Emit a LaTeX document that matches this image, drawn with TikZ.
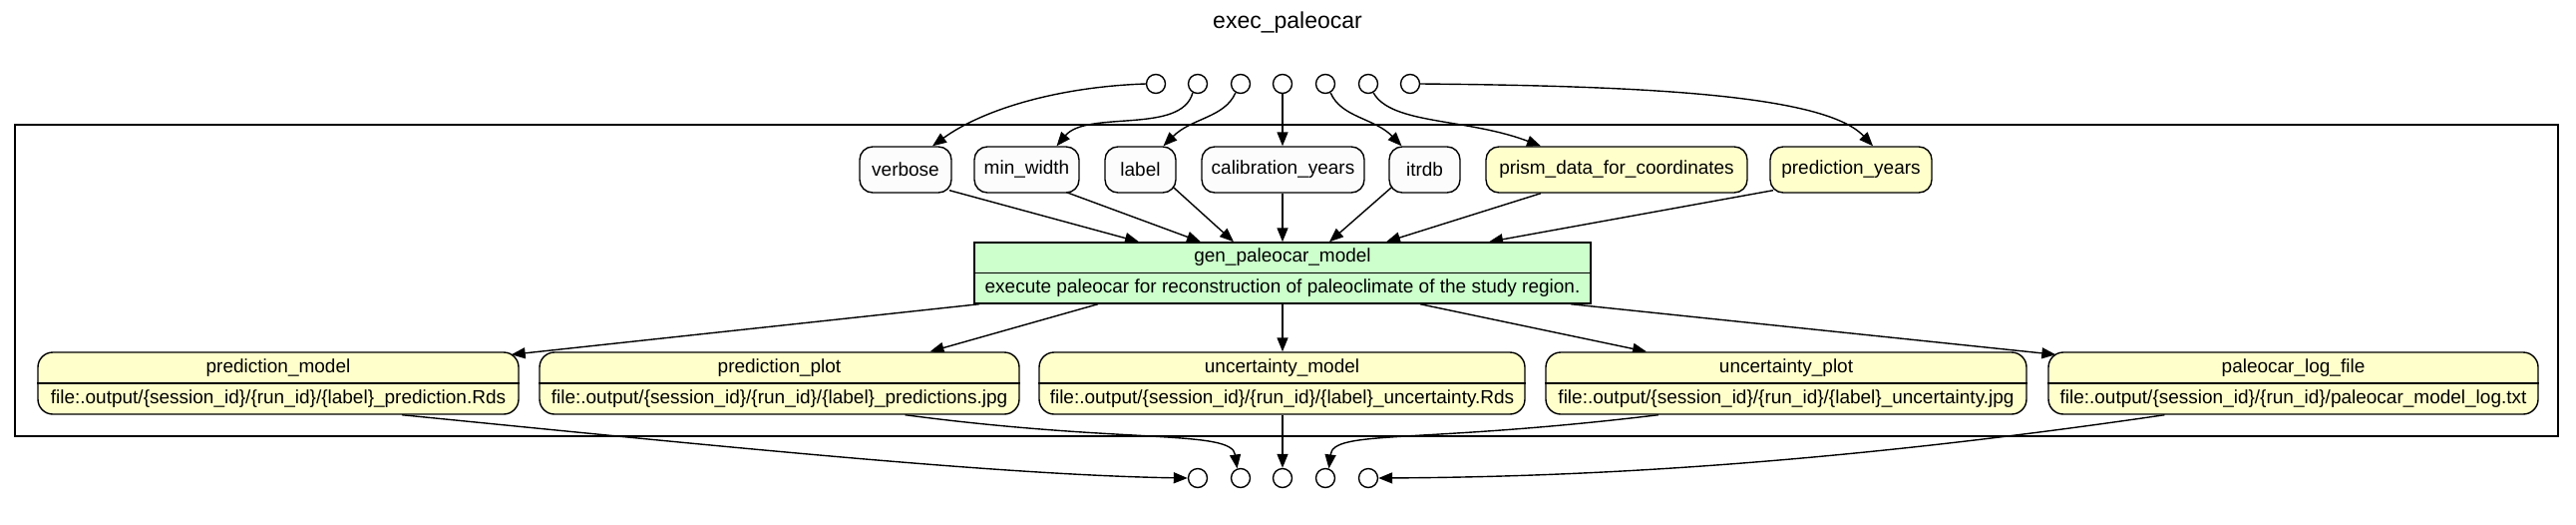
\documentclass[tikz,border=0pt]{standalone}
\usepackage{fontspec}
\setmainfont{Liberation Sans}
\usetikzlibrary{arrows.meta}
\pgfdeclarelayer{edges}
\pgfsetlayers{edges,main}
\definecolor{paramfill}{HTML}{FCFCFC}
\definecolor{datafill}{HTML}{FFFFCC}
\definecolor{progfill}{HTML}{CCFFCC}
\tikzset{
  nodefont/.style={font=\fontsize{19}{22}\selectfont},
  topbox/.style={draw=black, line width=1.4pt, rounded corners=13pt, inner sep=0pt, minimum height=46pt, nodefont},
  parambox/.style={topbox, fill=paramfill},
  inbox/.style={topbox, fill=datafill},
  outbox/.style={draw=black, line width=1.4pt, rounded corners=15pt, fill=datafill, inner sep=0pt, minimum height=62pt},
  progbox/.style={draw=black, line width=1.4pt, fill=progfill, inner sep=0pt, minimum width=618pt, minimum height=61pt},
  txt/.style={nodefont, inner sep=0pt},
  port/.style={circle, draw=black, line width=1.4pt, fill=white, minimum size=19pt, inner sep=0pt},
  flow/.style={line width=1.4pt, -{Triangle[length=14pt,width=11pt]}},
  divider/.style={line width=1.4pt},
}
\begin{document}
\begin{tikzpicture}[x=1pt,y=-1pt]
\useasboundingbox (0,0) rectangle (2583,525);
\node[font=\fontsize{23}{26}\selectfont, inner sep=0pt] (title) at (1291,23) {exec\_paleocar};
\node[draw, line width=2.8pt, minimum width=2550pt, minimum height=312pt, inner sep=0pt] (frame) at (1290,281) {};
% input ports
\node[port] (i1) at (1159,84) {};
\node[port] (i2) at (1201,84) {};
\node[port] (i3) at (1244,84) {};
\node[port] (i4) at (1286,84) {};
\node[port] (i5) at (1329,84) {};
\node[port] (i6) at (1372,84) {};
\node[port] (i7) at (1414,84) {};
% output ports
\node[port] (o1) at (1201,479) {};
\node[port] (o2) at (1244,479) {};
\node[port] (o3) at (1286,479) {};
\node[port] (o4) at (1329,479) {};
\node[port] (o5) at (1372,479) {};
% top row
\node[parambox, minimum width=92pt] (verbose) at (908,170) {verbose};
\node[parambox, minimum width=105pt] (minw) at (1029.5,170) {min\_width};
\node[parambox, minimum width=71pt] (lbl) at (1143.5,170) {label};
\node[parambox, minimum width=163pt] (calib) at (1286.5,170) {calibration\_years};
\node[parambox, minimum width=71pt] (itrdb) at (1428.5,170) {itrdb};
\node[inbox, minimum width=262pt] (prism) at (1621,170) {prism\_data\_for\_coordinates};
\node[inbox, minimum width=162pt] (predyears) at (1856,170) {prediction\_years};
% program
\node[progbox] (gen) at (1286,273.5) {};
\draw[divider] (gen.west) -- (gen.east);
\node[txt] (gent) at (1286,258) {gen\_paleocar\_model};
\node[txt] (gend) at (1286,289) {execute paleocar for reconstruction of paleoclimate of the study region.};
% outputs
\node[outbox, minimum width=482pt] (pm) at (279,384) {};
\node[outbox, minimum width=481pt] (pp) at (781.5,384) {};
\node[outbox, minimum width=487pt] (um) at (1285.5,384) {};
\node[outbox, minimum width=482pt] (up) at (1791,384) {};
\node[outbox, minimum width=491pt] (pl) at (2299.5,384) {};
\foreach \n in {pm,pp,um,up,pl} {\draw[divider] (\n.west) -- (\n.east);}
\node[txt] (pmt) at (279,369) {prediction\_model};
\node[txt] (pmf) at (279,400) {file:.output/\{session\_id\}/\{run\_id\}/\{label\}\_prediction.Rds};
\node[txt] (ppt) at (781.5,369) {prediction\_plot};
\node[txt] (ppf) at (781.5,400) {file:.output/\{session\_id\}/\{run\_id\}/\{label\}\_predictions.jpg};
\node[txt] (umt) at (1285.5,369) {uncertainty\_model};
\node[txt] (umf) at (1285.5,400) {file:.output/\{session\_id\}/\{run\_id\}/\{label\}\_uncertainty.Rds};
\node[txt] (upt) at (1791,369) {uncertainty\_plot};
\node[txt] (upf) at (1791,400) {file:.output/\{session\_id\}/\{run\_id\}/\{label\}\_uncertainty.jpg};
\node[txt] (plt) at (2299.5,369) {paleocar\_log\_file};
\node[txt] (plf) at (2299.5,400) {file:.output/\{session\_id\}/\{run\_id\}/paleocar\_model\_log.txt};
\begin{pgfonlayer}{edges}
% ports to inputs
\draw[flow] (i1.west) .. controls (1060,87) and (985,110) .. ([xshift=27pt]verbose.north);
\draw[flow] (i2.-120) .. controls (1185,135) and (1090,110) .. ([xshift=30pt]minw.north);
\draw[flow] (i3.-120) .. controls (1228,118) and (1195,118) .. ([xshift=23pt]lbl.north);
\draw[flow] (i4.south) -- (i4 |- calib.north);
\draw[flow] (i5.-60) .. controls (1345,118) and (1378,118) .. ([xshift=-23pt]itrdb.north);
\draw[flow] (i6.-60) .. controls (1395,125) and (1470,118) .. ([xshift=-76pt]prism.north);
\draw[flow] (i7.east) .. controls (1650,86) and (1830,95) .. ([xshift=22pt]predyears.north);
% inputs to program
\draw[flow] ([xshift=44pt,yshift=3pt]verbose.south) -- ([xshift=-144pt]gen.north);
\draw[flow] ([xshift=40pt,yshift=1pt]minw.south) -- ([xshift=-82pt]gen.north);
\draw[flow] ([xshift=32pt,yshift=7pt]lbl.south) -- ([xshift=-49pt]gen.north);
\draw[flow] (gen.north |- calib.south) -- (gen.north);
\draw[flow] ([xshift=-32pt,yshift=7pt]itrdb.south) -- ([xshift=47pt]gen.north);
\draw[flow] ([xshift=-76pt]prism.south) -- ([xshift=104pt]gen.north);
\draw[flow] ([xshift=-78pt,yshift=3pt]predyears.south) -- ([xshift=207pt]gen.north);
% program to outputs
\draw[flow] ([xshift=-304pt]gen.south) -- ([xshift=-8pt,yshift=-3pt]pm.north east);
\draw[flow] ([xshift=-185pt]gen.south) -- ([xshift=151pt]pp.north);
\draw[flow] (gen.south) -- (gen.south |- um.north);
\draw[flow] ([xshift=138pt]gen.south) -- ([xshift=-140pt]up.north);
\draw[flow] ([xshift=289pt]gen.south) -- ([xshift=8pt,yshift=-3pt]pl.north west);
% outputs to ports
\draw[flow] ([xshift=124pt]pm.south) .. controls (700,445) and (1000,476) .. (o1.west);
\draw[flow] ([xshift=126pt]pp.south) .. controls (1130,445) and (1235,430) .. (o2.110);
\draw[flow] (o3 |- um.south) -- (o3.north);
\draw[flow] ([xshift=-128pt]up.south) .. controls (1420,445) and (1337,430) .. (o4.70);
\draw[flow] ([xshift=-129pt]pl.south) .. controls (1800,470) and (1550,478) .. (o5.east);
\end{pgfonlayer}
\end{tikzpicture}
\end{document}
